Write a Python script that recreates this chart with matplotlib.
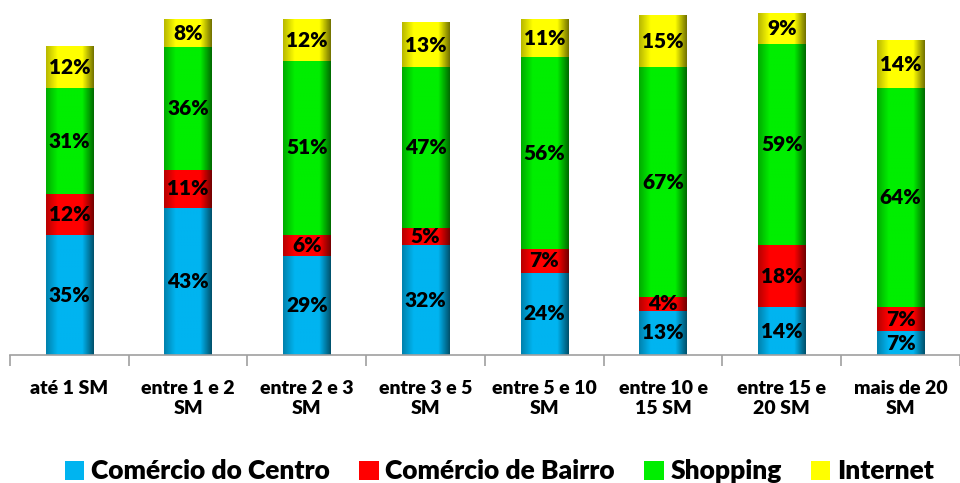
import numpy as np
import matplotlib
matplotlib.use("Agg")
import matplotlib.pyplot as plt
from matplotlib.patches import Patch
from matplotlib.colors import to_rgb

plt.rcParams['font.family'] = ['Lato', 'DejaVu Sans']

categories = ["até 1 SM", "entre 1 e 2\nSM", "entre 2 e 3\nSM", "entre 3 e 5\nSM",
              "entre 5 e 10\nSM", "entre 10 e\n15 SM", "entre 15 e\n20 SM", "mais de 20\nSM"]
series_names = ["Comércio do Centro", "Comércio de Bairro", "Shopping", "Internet"]
centro = [35, 43, 29, 32, 24, 13, 14, 7]
bairro = [12, 11, 6, 5, 7, 4, 18, 7]
shopping = [31, 36, 51, 47, 56, 67, 59, 64]
internet = [12, 8, 12, 13, 11, 15, 9, 14]
colors = ["#00B4F0", "#FF0000", "#00EE00", "#FFFF00"]

series = [centro, bairro, shopping, internet]

fig = plt.figure(figsize=(9.6, 4.83), dpi=100)
ax = fig.add_axes([0.0104, 0.265, 0.9896, 0.725])

width = 0.4
# horizontal shading profile for a cylinder-like bevel
prof = np.concatenate([np.linspace(0.72, 1.0, 20), np.ones(40), np.linspace(1.0, 0.45, 20)])

x = np.arange(len(categories))
bottoms = np.zeros(len(categories))
for vals, col in zip(series, colors):
    rgb = np.array(to_rgb(col))
    img = np.clip(prof[None, :, None] * rgb[None, None, :], 0, 1)
    for i, v in enumerate(vals):
        b = bottoms[i]
        ax.imshow(img, extent=(x[i] - width / 2, x[i] + width / 2, b, b + v),
                  aspect='auto', interpolation='bilinear', zorder=2)
        ax.text(x[i], b + v / 2, f"{v}%", ha='center', va='center',
                fontsize=15, fontweight='heavy', color='black', zorder=3)
    bottoms += np.array(vals)

ax.set_xlim(-0.5, len(categories) - 0.5)
ax.set_ylim(0, 102.3)
ax.set_yticks([])
for s in ['top', 'right', 'left']:
    ax.spines[s].set_visible(False)
ax.spines['bottom'].set_color('#A0A0A0')
ax.spines['bottom'].set_linewidth(1.2)
ax.set_xticks(np.arange(-0.5, len(categories) - 0.4, 1.0), minor=False)
ax.set_xticklabels([])
ax.tick_params(axis='x', which='major', length=8, color='#A0A0A0', width=1.2)
ax.set_xticks(x, minor=True)
ax.set_xticklabels(categories, minor=True, fontsize=14, fontweight='heavy')
ax.tick_params(axis='x', which='minor', length=0, pad=18)

handles = [Patch(facecolor=c, edgecolor='none', label=n) for n, c in zip(series_names, colors)]
fig.legend(handles=handles, loc='lower center', ncol=4, frameon=False,
           bbox_to_anchor=(0.52, -0.05), prop={'size': 19, 'weight': 'heavy'},
           handlelength=0.75, handleheight=0.75, handletextpad=0.25, columnspacing=1.1)

fig.savefig("out.png", dpi=100)
